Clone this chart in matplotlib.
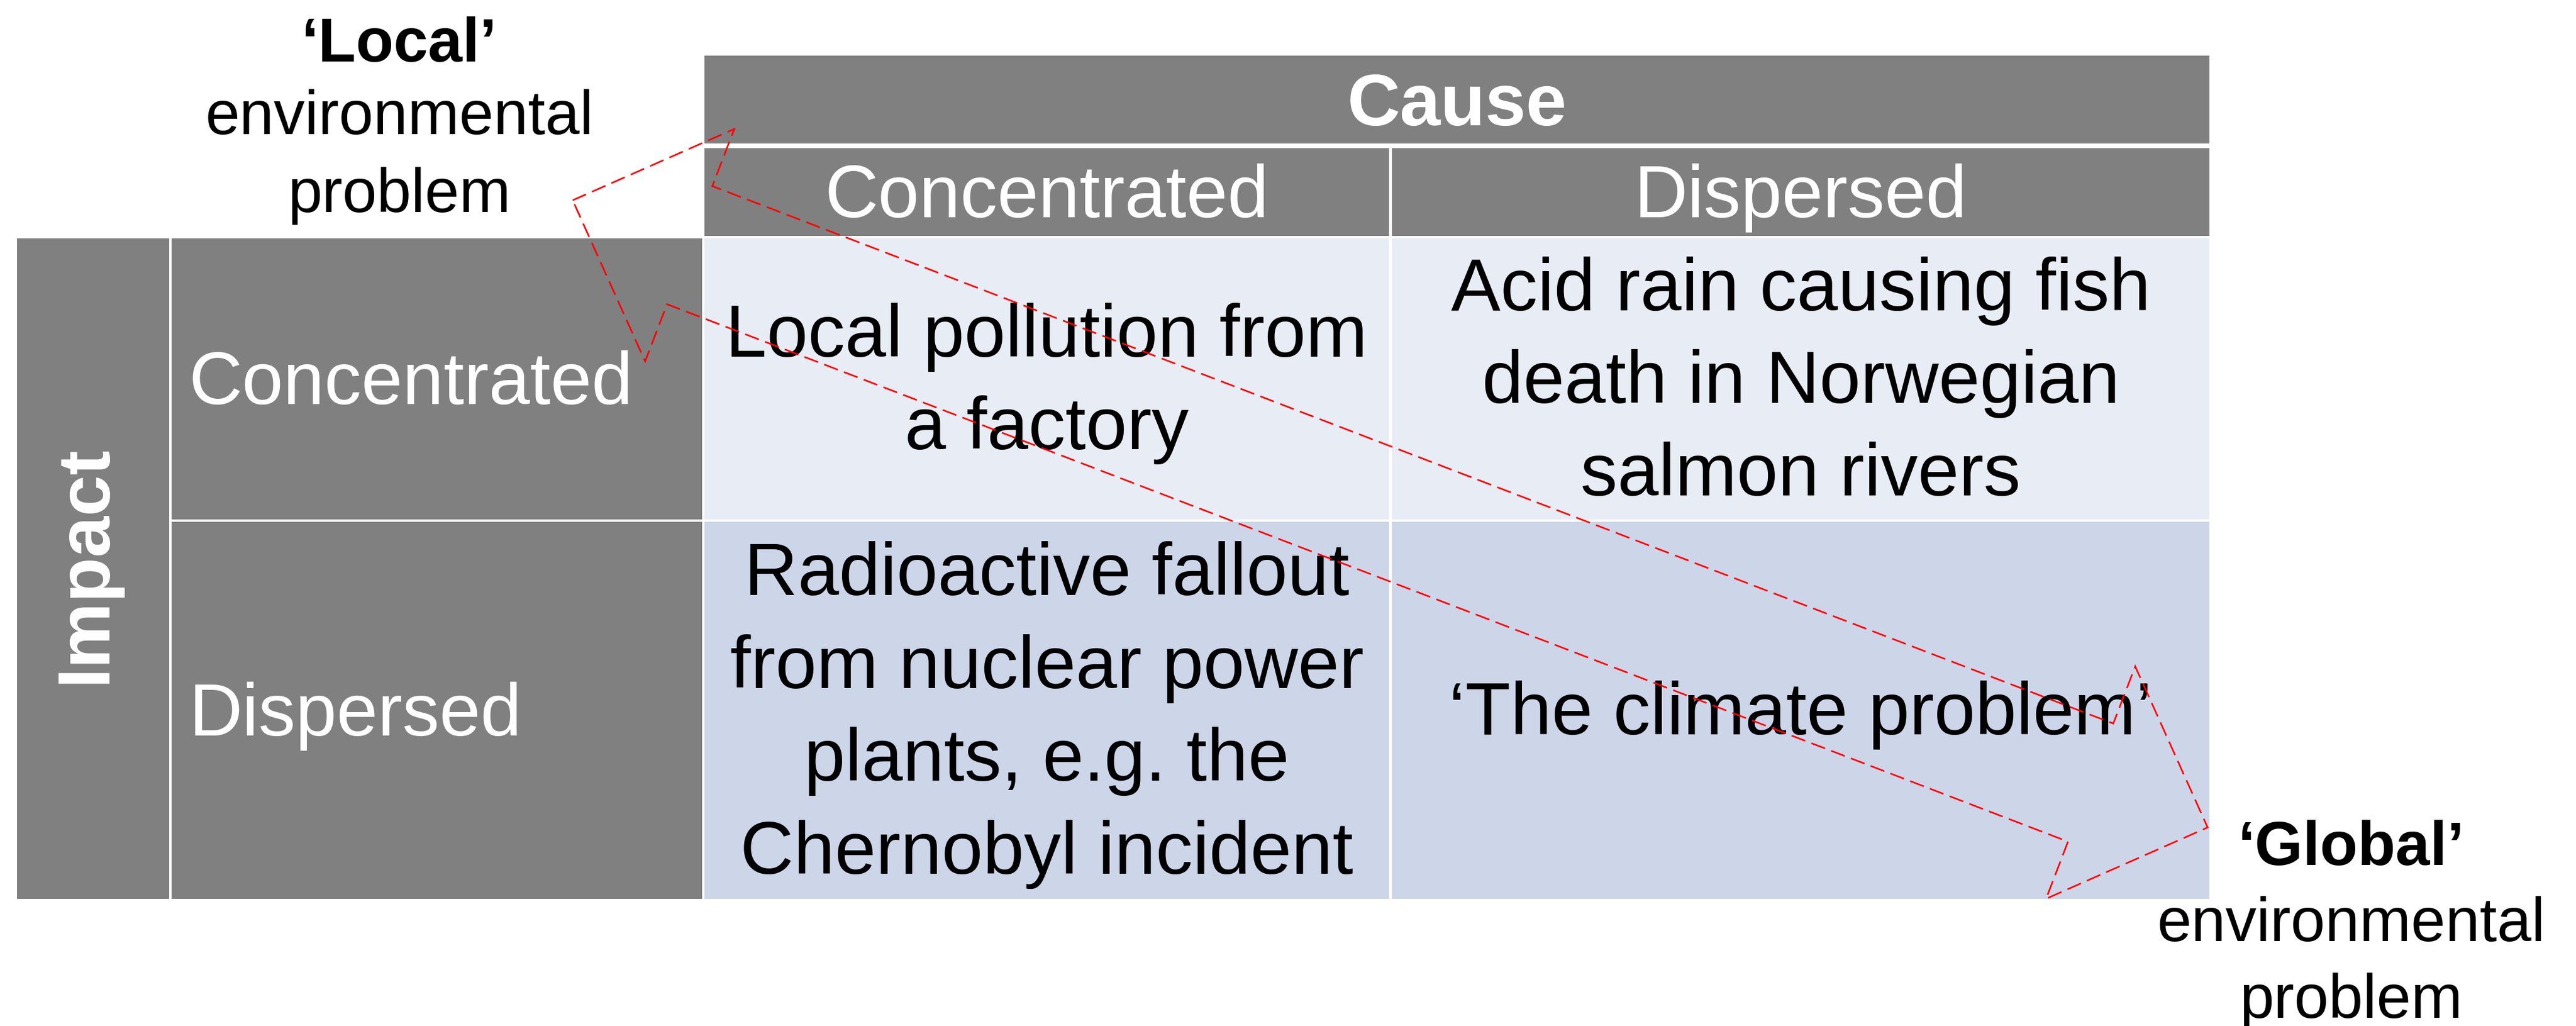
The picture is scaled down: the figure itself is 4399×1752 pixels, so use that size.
import numpy as np
import matplotlib
matplotlib.use("Agg")
import matplotlib.pyplot as plt
from matplotlib.patches import Rectangle, Polygon

plt.rcParams['font.family'] = ['Liberation Sans', 'DejaVu Sans']

# table content
cause_title = "Cause"
impact_title = "Impact"
cause_levels = ["Concentrated", "Dispersed"]
impact_levels = ["Concentrated", "Dispersed"]
cell_text = [
    ["Local pollution from\na factory",
     "Acid rain causing fish\ndeath in Norwegian\nsalmon rivers"],
    ["Radioactive fallout\nfrom nuclear power\nplants, e.g. the\nChernobyl incident",
     "\u2018The climate problem\u2019"],
]
local_label = ["\u2018Local\u2019", "environmental", "problem"]
global_label = ["\u2018Global\u2019", "environmental", "problem"]

# layout (pixels)
W, H = 4399, 1752
col_x = [(1203, 2372), (2377, 3773)]
row_y = [(407, 887), (891, 1535)]
gray = "#808080"
cell_colors = ["#E8ECF4", "#CDD5E8"]

fig = plt.figure(figsize=(W / 100, H / 100), dpi=100)
ax = fig.add_axes([0, 0, 1, 1])
ax.set_xlim(0, W)
ax.set_ylim(H, 0)
ax.axis('off')


def box(x0, x1, y0, y1, color):
    ax.add_patch(Rectangle((x0, y0), x1 - x0, y1 - y0, facecolor=color,
                           edgecolor='none', zorder=1))


# header
box(col_x[0][0], col_x[1][1], 95, 245, gray)
ax.text((col_x[0][0] + col_x[1][1]) / 2, 182, cause_title, color='white',
        fontsize=90, fontweight='bold', ha='center', va='center', zorder=3)
for (x0, x1), lab in zip(col_x, cause_levels):
    box(x0, x1, 253, 403, gray)
    ax.text((x0 + x1) / 2, 338, lab, color='white', fontsize=91,
            ha='center', va='center', zorder=3)

# impact side
box(29, 289, row_y[0][0], row_y[1][1], gray)
ax.text(146, (row_y[0][0] + row_y[1][1]) / 2 - 8, impact_title, color='white',
        fontsize=91, fontweight='bold', rotation=90, ha='center',
        va='center', zorder=3)
for (y0, y1), lab in zip(row_y, impact_levels):
    box(293, 1199, y0, y1, gray)
    ax.text(323, (y0 + y1) / 2 + 10, lab, color='white', fontsize=91,
            ha='left', va='center', zorder=3)

# body cells
for i, (y0, y1) in enumerate(row_y):
    for j, (x0, x1) in enumerate(col_x):
        box(x0, x1, y0, y1, cell_colors[i])
        ax.text((x0 + x1) / 2, (y0 + y1) / 2 + 8, cell_text[i][j],
                color='black', fontsize=91, ha='center', va='center',
                linespacing=1.44, zorder=3)

# side labels
for k, (lab, y) in enumerate(zip(local_label, [78, 202, 334])):
    ax.text(682, y, lab, fontsize=76, ha='center', va='center',
            fontweight='bold' if k == 0 else 'normal', zorder=3)
for k, (lab, y) in enumerate(zip(global_label, [1450, 1580, 1710])):
    ax.text(4015, y, lab, fontsize=76, ha='center', va='center',
            fontweight='bold' if k == 0 else 'normal', zorder=3)

# double headed dashed arrow
tip_a = np.array([978.0, 342.0])
tip_b = np.array([3770.0, 1413.0])
shaft_w, head_w, head_l = 216, 425, 214
u = (tip_b - tip_a) / np.linalg.norm(tip_b - tip_a)
n = np.array([-u[1], u[0]])
base_a = tip_a + u * head_l
base_b = tip_b - u * head_l
pts = [
    tip_a,
    base_a - n * head_w / 2,
    base_a - n * shaft_w / 2,
    base_b - n * shaft_w / 2,
    base_b - n * head_w / 2,
    tip_b,
    base_b + n * head_w / 2,
    base_b + n * shaft_w / 2,
    base_a + n * shaft_w / 2,
    base_a + n * head_w / 2,
]
ax.add_patch(Polygon(pts, closed=True, facecolor='none', edgecolor='red',
                     linewidth=2.0, linestyle=(0, (9, 4)), zorder=4))

fig.savefig("out.png", dpi=100)
